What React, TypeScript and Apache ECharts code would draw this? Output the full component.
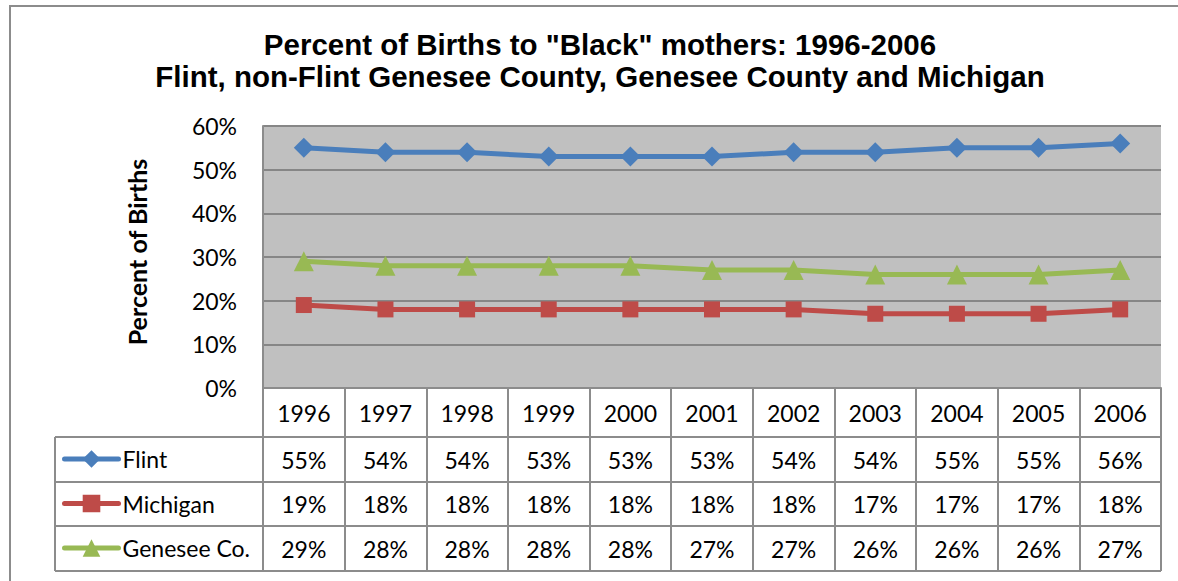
import React, { useEffect, useRef } from "react";
import * as echarts from "echarts";

const years = ["1996", "1997", "1998", "1999", "2000", "2001", "2002", "2003", "2004", "2005", "2006"];
const flint = [55, 54, 54, 53, 53, 53, 54, 54, 55, 55, 56];
const michigan = [19, 18, 18, 18, 18, 18, 18, 17, 17, 17, 18];
const genesee = [29, 28, 28, 28, 28, 27, 27, 26, 26, 26, 27];
const seriesNames = ["Flint", "Michigan", "Genesee Co."];
const titleText = 'Percent of Births to "Black" mothers: 1996-2006\nFlint, non-Flint Genesee County, Genesee County and Michigan';

const FONT = "Lato";
const LINE_GRAY = "#8c8c8c";

export default function App() {
  const ref = useRef<HTMLDivElement>(null);
  useEffect(() => {
    document.body.style.margin = "0";
    const chart = echarts.init(ref.current!, undefined, { renderer: "svg" });
    const rows = [flint, michigan, genesee];
    const colors = ["#4a7ebb", "#be4b48", "#98b954"];
    const symbols = ["diamond", "rect", "triangle"];
    const symbolSizes = [20, 16, 20];
    const rowOffsets = [47, 91.5, 136];
    const rowCenters = [459.5, 504, 548.5];
    const baseAxisLabel = { fontSize: 23, fontFamily: FONT, color: "#000", margin: 13, interval: 0 };

    const xAxes: any[] = [
      {
        type: "category",
        data: years,
        boundaryGap: true,
        position: "bottom",
        axisLine: { show: true, lineStyle: { color: LINE_GRAY, width: 2 } },
        axisTick: { show: true, interval: 0, length: 183, lineStyle: { color: LINE_GRAY, width: 2 } },
        axisLabel: baseAxisLabel,
        splitLine: { show: false },
      },
    ];
    rows.forEach((arr, r) => {
      xAxes.push({
        type: "category",
        data: years,
        boundaryGap: true,
        position: "bottom",
        offset: rowOffsets[r],
        axisLine: { show: false },
        axisTick: { show: false },
        axisLabel: { ...baseAxisLabel, formatter: (_v: string, i: number) => arr[i] + "%" },
      });
    });

    const hLines = [437, 482, 526, 571].map((y) => ({
      type: "line",
      shape: { x1: 55, y1: y, x2: 1161, y2: y },
      style: { stroke: LINE_GRAY, lineWidth: 2 },
    }));

    chart.setOption({
      animation: false,
      backgroundColor: "#fff",
      grid: {
        left: 263,
        top: 126,
        right: 17,
        bottom: 193,
        show: true,
        backgroundColor: "#c0c0c0",
        borderWidth: 0,
        containLabel: false,
      },
      xAxis: xAxes,
      yAxis: {
        type: "value",
        min: 0,
        max: 60,
        interval: 10,
        name: "Percent of Births",
        nameLocation: "middle",
        nameGap: 114,
        nameRotate: 90,
        nameTextStyle: { fontSize: 25, fontWeight: "bold", fontFamily: FONT, color: "#000", padding: [0, 0, 0, 10] },
        axisLine: { show: true, lineStyle: { color: LINE_GRAY, width: 2 } },
        axisTick: { show: false },
        axisLabel: { formatter: "{value}%", fontSize: 23, fontFamily: FONT, color: "#000", margin: 26 },
        splitLine: { show: true, lineStyle: { color: "#868686", width: 2 } },
      },
      legend: seriesNames.map((n, i) => ({
        data: [n],
        left: 62,
        top: rowCenters[i] - 12,
        itemWidth: 54,
        itemHeight: 22,
        itemGap: 0,
        padding: 0,
        lineStyle: { width: 5, cap: "round" },
        textStyle: { fontSize: 23, fontFamily: FONT, color: "#000", padding: [0, 0, 0, -1] },
        selectedMode: false,
      })),
      graphic: [
        {
          type: "rect",
          shape: { x: 10, y: 6, width: 1200, height: 620 },
          style: { fill: "none", stroke: LINE_GRAY, lineWidth: 2 },
          silent: true,
        },
        {
          type: "text",
          x: 600,
          y: 60,
          style: {
            text: titleText,
            fill: "#000",
            font: 'bold 29.5px "Liberation Sans", Arial, sans-serif',
            textAlign: "center",
            textVerticalAlign: "middle",
            lineHeight: 32,
          },
        },
        ...hLines,
        {
          type: "line",
          shape: { x1: 55, y1: 437, x2: 55, y2: 571 },
          style: { stroke: LINE_GRAY, lineWidth: 2 },
        },
      ],
      series: rows.map((arr, i) => ({
        name: seriesNames[i],
        type: "line",
        data: arr,
        xAxisIndex: 0,
        symbol: symbols[i],
        symbolSize: symbolSizes[i],
        showAllSymbol: true,
        lineStyle: { color: colors[i], width: 5 },
        itemStyle: { color: colors[i] },
        emphasis: { disabled: true },
      })),
    });
    return () => chart.dispose();
  }, []);
  return <div ref={ref} style={{ width: 1178, height: 581 }} />;
}
